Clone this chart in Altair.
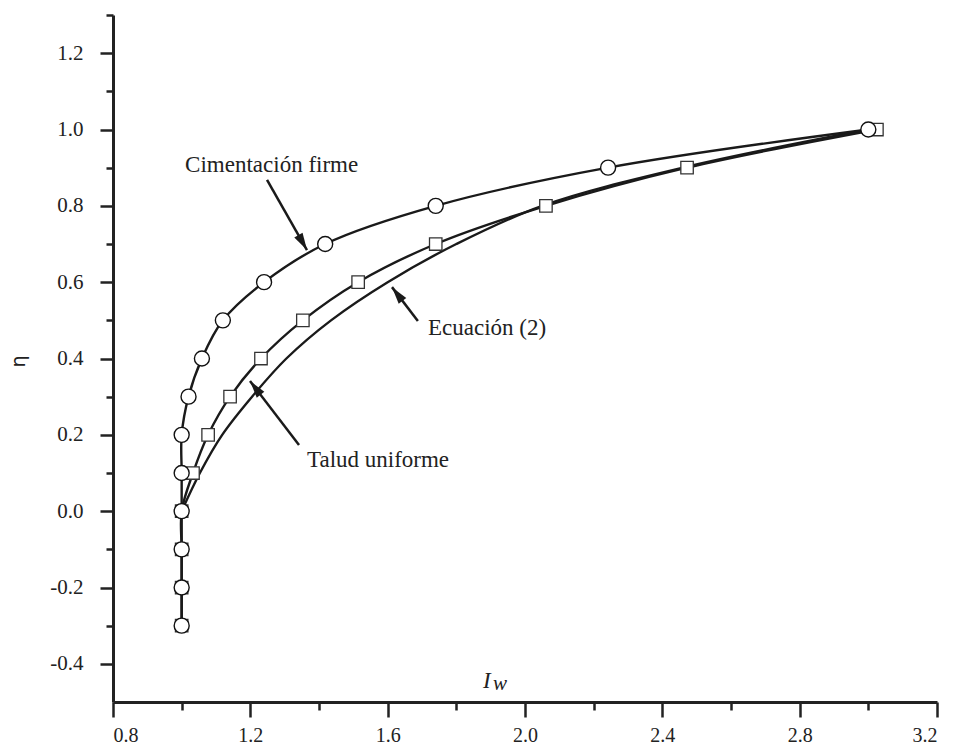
import math
import altair as alt
import pandas as pd

# ---- data ----
eta_pts = [-0.3, -0.2, -0.1, 0.0, 0.1, 0.2, 0.3, 0.4, 0.5, 0.6, 0.7, 0.8, 0.9, 1.0]
iw_firme = [1.0, 1.0, 1.0, 1.0, 1.0, 1.0, 1.02, 1.059, 1.12, 1.24, 1.418, 1.74, 2.242, 3.0]
iw_talud = [1.0, 1.0, 1.0, 1.0, 1.033, 1.077, 1.141, 1.231, 1.353, 1.514, 1.74, 2.061, 2.472, 3.025]

eta_ec = [0.0, 0.1, 0.2, 0.3, 0.4, 0.5, 0.6, 0.7, 0.8, 0.9, 1.0]
iw_ec = [1.0, 1.053, 1.118, 1.205, 1.305, 1.435, 1.60, 1.80, 2.05, 2.46, 3.0]

labels = ["Cimentación firme", "Ecuación (2)", "Talud uniforme"]
label_x = [1.01, 1.7175, 1.365]
label_y = [0.889, 0.4616, 0.1158]
arrow_x1 = [1.2486, 1.688, 1.3418]
arrow_y1 = [0.868, 0.498, 0.1735]
arrow_x2 = [1.365, 1.6126, 1.199]
arrow_y2 = [0.684, 0.587, 0.341]

x_ticks = [round(0.8 + 0.2 * i, 1) for i in range(13)]
y_ticks = [round(-0.4 + 0.1 * i, 1) for i in range(18)]

X_DOM = [0.8, 3.2]
Y_DOM = [-0.5, 1.3]
W, H = 824, 687

INK = "#1a1a1a"
FONT = "Liberation Serif, Times New Roman, serif"

# ---- frames ----
df_firme = pd.DataFrame({"x": iw_firme, "y": eta_pts})
df_talud = pd.DataFrame({"x": iw_talud, "y": eta_pts})
df_ec = pd.DataFrame({"x": iw_ec, "y": eta_ec})

px_x = W / (X_DOM[1] - X_DOM[0])
px_y = H / (Y_DOM[1] - Y_DOM[0])
angles = []
for a, b, c, d in zip(arrow_x1, arrow_y1, arrow_x2, arrow_y2):
    dx = (c - a) * px_x
    dy = -(d - b) * px_y
    angles.append(math.degrees(math.atan2(dx, -dy)) % 360)

df_lab = pd.DataFrame({"x": label_x, "y": label_y, "t": labels})
df_arr = pd.DataFrame({"x": arrow_x1, "y": arrow_y1, "x2": arrow_x2, "y2": arrow_y2, "ang": angles})

xs = alt.Scale(domain=X_DOM, nice=False, zero=False)
ys = alt.Scale(domain=Y_DOM, nice=False, zero=False)

x_axis = alt.Axis(
    values=x_ticks,
    title=None,
    grid=False,
    domainColor="#222",
    domainWidth=3,
    tickColor="#222",
    tickWidth=2.5,
    tickSize={"condition": {"test": "abs(round(datum.value*10)) % 4 == 0", "value": 15}, "value": 8},
    labelExpr="abs(round(datum.value*10)) % 4 == 0 ? format(datum.value, '.1f') : ''",
    labelFont=FONT,
    labelFontSize=20,
    labelColor="#222",
    labelPadding=8,
)
y_axis = alt.Axis(
    values=y_ticks,
    title="η",
    titleFont="DejaVu Sans",
    titleFontSize=19,
    titleFontWeight="normal",
    titleColor="#222",
    titleAngle=270,
    titleAlign="center",
    titleBaseline="middle",
    titleX=-95,
    titleY=346,
    grid=False,
    domainColor="#222",
    domainWidth=3,
    tickColor="#222",
    tickWidth=2.5,
    tickSize={"condition": {"test": "abs(round(datum.value*10)) % 2 == 0", "value": 13}, "value": 7},
    labelExpr="abs(round(datum.value*10)) % 2 == 0 ? (datum.value < 0 ? '-' : '') + format(abs(datum.value), '.1f') : ''",
    labelFont=FONT,
    labelFontSize=21,
    labelColor="#222",
    labelPadding=17,
)


def enc_xy(ch):
    return ch.encode(
        x=alt.X("x:Q", scale=xs, axis=x_axis),
        y=alt.Y("y:Q", scale=ys, axis=y_axis),
    )


line_kw = dict(interpolate="catmull-rom", strokeWidth=2.4, color=INK, clip=False)


def line(df):
    return alt.Chart(df).mark_line(**line_kw).encode(
        x=alt.X("x:Q", scale=xs, axis=x_axis),
        y=alt.Y("y:Q", scale=ys, axis=y_axis),
        order="y:Q",
    )


line_firme = line(df_firme)
line_talud = line(df_talud)
line_ec = line(df_ec)

sq = enc_xy(alt.Chart(df_talud).mark_point(
    shape="square", size=155, filled=True, fill="white", stroke="#333", strokeWidth=1.3, opacity=1
))
circ = enc_xy(alt.Chart(df_firme).mark_point(
    shape="circle", size=225, filled=True, fill="white", stroke="#111", strokeWidth=1.4, opacity=1
))

shaft = alt.Chart(df_arr).mark_rule(strokeWidth=2.5, color=INK).encode(
    x=alt.X("x:Q", scale=xs, axis=x_axis),
    y=alt.Y("y:Q", scale=ys, axis=y_axis),
    x2="x2:Q",
    y2="y2:Q",
)
head = alt.Chart(df_arr).mark_point(
    shape="M0,0 L0.55,2 L-0.55,2 Z", size=300, filled=True, color=INK, opacity=1
).encode(
    x=alt.X("x2:Q", scale=xs, axis=x_axis),
    y=alt.Y("y2:Q", scale=ys, axis=y_axis),
    angle=alt.Angle("ang:Q", scale=None),
)

txt = alt.Chart(df_lab).mark_text(
    font=FONT, fontSize=23, color="#222", align="left", baseline="alphabetic"
).encode(
    x=alt.X("x:Q", scale=xs, axis=x_axis),
    y=alt.Y("y:Q", scale=ys, axis=y_axis),
    text="t:N",
)

df_title = pd.DataFrame({"x": [1.8777, 1.9068], "y": [-0.4632, -0.4685], "t": ["I", "w"], "s": [23, 21]})
xtitle = alt.Chart(df_title).mark_text(
    font=FONT, fontStyle="italic", color="#222", align="left", baseline="alphabetic"
).encode(
    x=alt.X("x:Q", scale=xs, axis=x_axis),
    y=alt.Y("y:Q", scale=ys, axis=y_axis),
    text="t:N",
    size=alt.Size("s:Q", scale=None, legend=None),
)

chart = alt.layer(
    line_ec, line_talud, line_firme, sq, circ, shaft, head, txt, xtitle
).properties(
    width=W,
    height=H,
    autosize=alt.AutoSizeParams(type="none"),
    padding={"left": 105, "top": 7, "right": 10, "bottom": 46},
    background="white",
).configure_view(stroke=None)

chart.save("out.html", embed_options={"renderer": "svg", "actions": False})
